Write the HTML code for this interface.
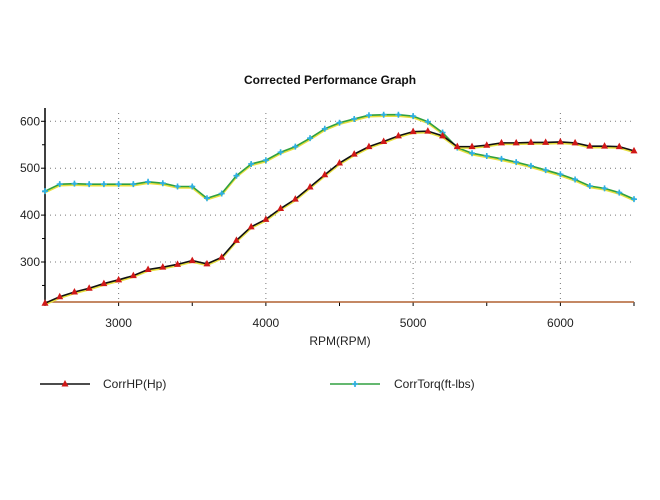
<!DOCTYPE html>
<html><head><meta charset="utf-8"><style>
body{margin:0;background:#fff;width:660px;height:495px;overflow:hidden;font-family:"Liberation Sans",sans-serif}
</style></head><body>
<svg id="chart" width="660" height="495" viewBox="0 0 660 495" xmlns="http://www.w3.org/2000/svg"></svg>
<script>
const rpm=[];for(let r=2500;r<=6500;r+=100)rpm.push(r);
const hpValues=[212,226,236,244,254,262,271,284,289,295,303,296,310,346,375,391,414,434,460,486,511,530,546,557,569,578,579,569,546,546,549,554,554,555,555,556,554,547,547,546,537];
const torqueValues=[451,466,467,466,466,466,466,471,468,461,461,436,446,484,509,517,534,546,564,584,597,605,613,614,614,611,599,576,544,532,526,520,513,505,496,487,476,462,457,448,434];
const xTicks=[3000,4000,5000,6000];
const yTicks=[300,400,500,600];
const NS='http://www.w3.org/2000/svg';
const svg=document.getElementById('chart');
const L=45,R=634,T=108,B=302;
const x=v=>L+(v-2500)/4000*(R-L);
const y=v=>262-(v-300)*0.469;
function mk(tag,attrs,parent){const e=document.createElementNS(NS,tag);for(const k in attrs)e.setAttribute(k,attrs[k]);(parent||svg).appendChild(e);return e;}
let t=mk('text',{x:330,y:84,'text-anchor':'middle','font-size':12,'font-weight':'bold',fill:'#111'});t.textContent='Corrected Performance Graph';

const grid=mk('g',{});
yTicks.forEach(v=>{mk('line',{x1:L,x2:R,y1:y(v),y2:y(v),stroke:'#777','stroke-width':1,'stroke-dasharray':'1,4'},grid);
 const tl=mk('text',{x:L-5,y:y(v)+4,'text-anchor':'end','font-size':12,fill:'#222'});tl.textContent=v;
 
 mk('line',{x1:L-4,x2:L,y1:y(v),y2:y(v),stroke:'#000'});});
[250,350,450,550].forEach(v=>mk('line',{x1:L-3,x2:L,y1:y(v),y2:y(v),stroke:'#000'}));
xTicks.forEach(v=>{mk('line',{x1:x(v),x2:x(v),y1:T+5,y2:B,stroke:'#777','stroke-width':1,'stroke-dasharray':'1,4'},grid);
 const tl=mk('text',{x:x(v),y:B+25,'text-anchor':'middle','font-size':12,fill:'#222'});tl.textContent=v;
 });
[2500,3000,3500,4000,4500,5000,5500,6000,6500].forEach(v=>mk('line',{x1:x(v),x2:x(v),y1:B,y2:B+4,stroke:'#000'}));
const ya=mk('line',{x1:L,x2:L,y1:T,y2:B,stroke:'#000','stroke-width':1.5});
const xa=mk('line',{x1:L,x2:R,y1:B,y2:B,stroke:'#b06030','stroke-width':1.5});
t=mk('text',{x:340,y:345,'text-anchor':'middle','font-size':12,fill:'#222'});t.textContent='RPM(RPM)';

function tri(g,cx,cy){mk('polygon',{points:`${cx},${cy-4} ${cx-3.5},${cy+2.5} ${cx+3.5},${cy+2.5}`,fill:'#d01818'},g);}
function star(g,cx,cy){mk('path',{d:`M${cx-3},${cy}H${cx+3}M${cx},${cy-3}V${cx+0*0+cy+3-cy+cy-cy}`.replace(/V.*$/,`V${cy+3}`),stroke:'#30b0e0','stroke-width':1.6},g);mk('circle',{cx,cy,r:1.6,fill:'#30b0e0'},g);}
function series(vals,name,color,marker){
 const g=mk('g',{});
 const pts=vals.map((v,i)=>x(rpm[i])+','+y(v)).join(' ');
 mk('polyline',{points:vals.map((v,i)=>x(rpm[i])+','+(y(v)+1.3)).join(' '),fill:'none',stroke:'#e8e040','stroke-width':2},g);
 mk('polyline',{points:pts,fill:'none',stroke:color,'stroke-width':1.6},g);
 vals.forEach((v,i)=>marker(g,x(rpm[i]),y(v)));}
series(torqueValues,'torque-series','#30a040',star);
series(hpValues,'hp-series','#111',tri);
const lg1=mk('g',{});
mk('line',{x1:40,x2:90,y1:384,y2:384,stroke:'#111','stroke-width':1.6},lg1);tri(lg1,65,384);
t=mk('text',{x:103,y:388,'font-size':12,fill:'#222'},lg1);t.textContent='CorrHP(Hp)';
const lg2=mk('g',{});
mk('line',{x1:330,x2:380,y1:384,y2:384,stroke:'#30a040','stroke-width':1.6},lg2);star(lg2,355,384);
t=mk('text',{x:394,y:388,'font-size':12,fill:'#222'},lg2);t.textContent='CorrTorq(ft-lbs)';
</script>
</body></html>
